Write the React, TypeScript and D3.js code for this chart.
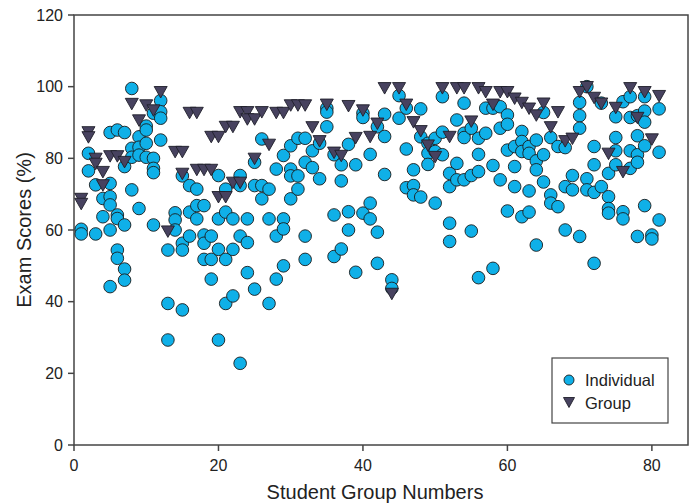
import React from "react";
import * as d3 from "d3";

// Individual exam scores per student group (group number = index + 1)
const individualScores: number[][] = [
  [60.2, 58.9], [81.4, 76.5], [72.6, 58.9], [68.8, 63.7],
  [87.2, 73, 69.3, 67, 60, 44.2], [87.9, 64.2, 63.2, 54.4, 52.1],
  [87.2, 77.7, 61.4, 49.1, 46], [99.5, 82.8, 80.3, 71.2], [86, 83.1, 80.9, 66],
  [89, 87.9, 84.2, 80.3], [92.6, 80, 77.2, 76, 61.4], [96.1, 93, 91.2, 85.1],
  [54.4, 39.5, 29.3], [64.8, 62.8, 60], [75.1, 56.3, 54.4, 37.7], [72.4, 65, 58.3],
  [71.4, 66.8, 63.1], [66.8, 58.6, 56.3, 51.8], [58.3, 51.8, 46.3], [75.2, 63.1, 54.6, 29.3],
  [71.4, 65, 51.8, 39.5], [63.1, 54.6, 41.6], [75.2, 72.4, 58.3, 22.8], [63.1, 56.5, 48.1],
  [78.9, 72.4, 43.5], [85.4, 72.4, 68.7], [71.4, 63.1, 39.5], [77, 58.3, 46.3],
  [80.8, 63.1, 60.3, 50], [83.5, 77, 75.1, 68.7], [85.6, 75.1, 71.4], [85.6, 78.9, 58.3, 51.8],
  [82.1, 77.4], [84.2, 74.3], [94, 92.9, 88.8], [81, 64.2, 52.6], [78.2, 73.7, 54.7],
  [83.9, 65.1, 60], [78.2, 48.2], [92.6, 91.4, 64.7], [81.1, 67.5, 63.1], [88.8, 59.4, 50.7],
  [92.3, 86.1, 75.5], [46.1, 43.7], [97.5, 91.2], [94, 82.6, 71.8], [76.8, 72.4, 69.8],
  [93.8, 86, 69.2], [84.2, 81.4, 78.3], [85.6, 81.9, 67.5], [97.2, 87.3, 81],
  [75.8, 72.1, 61.9, 56.8], [90.7, 78.6, 74], [95.4, 87, 85.8, 74], [88.4, 75.2, 59.7],
  [85.6, 81.1, 76.3, 46.7], [94, 87], [94, 78, 49.3], [94.4, 88.4, 74], [92.1, 89.5, 82.3, 65.3],
  [83.3, 77.7, 72.1], [87.5, 84.7, 81.9, 63.7], [83.3, 81.4, 70.9, 65], [85.1, 79.3, 76.8, 55.8],
  [92.8, 81, 73.4], [85.8, 69.8, 67.5], [83.3, 66.5], [83, 72.1, 60], [75.2, 71.2],
  [95.6, 91.9, 88.4, 58.2], [100, 74.3, 71.2], [83.3, 78.2, 70.5, 50.7], [95.4, 72.1],
  [75.8, 69.3, 66, 64.7], [91.6, 85.8, 82.1, 78.2], [95.8, 65.1, 63.1], [97.2, 91.4, 82.1, 77.2],
  [91.9, 86.3, 81, 78.9, 58.2], [97.2, 93.2, 90.1, 83.5, 66.8], [58.6, 57.5], [93.8, 81.7, 62.8],
];

// Group exam scores per student group (group number = index + 1)
const groupScores: number[][] = [
  [68.8, 67.4], [87.4, 86], [80, 78.6], [76.3, 72.6], [80.7], [80.7], [79.1], [95.3],
  [90.7], [94.9], [93.5], [98.6], [59.7], [81.9], [81.9, 75.8], [92.8], [92.8, 76.9],
  [76.9], [76.9, 86.1], [86.1, 69.3], [88.9, 69.3], [88.9, 73.3], [93, 73.3], [93, 91],
  [91, 80], [93], [83.9], [92.8], [92.8], [94.9], [94.9], [94.9], [88.8], [84.9], [95.1],
  [81.7], [80.8], [94.7], [85.8], [93.5], [86.1], [89.8], [99.7], [42.3], [99.7], [95.1],
  [90.2], [87.7], [83.7], [80.5], [99.7], [86.1], [99.7], [99.7], [90.4], [99.7], [98.6],
  [95.1], [98.6], [98.6], [96.8], [95.6], [94], [92.1], [95.4], [88.8], [93], [84.9], [85.6],
  [98.6], [100], [97], [95.4], [81.4], [94.2], [76.3], [99.7], [91.4], [98.6], [85.4], [97.5],
];

const xTicks = [0, 20, 40, 60, 80];
const yTicks = [0, 20, 40, 60, 80, 100, 120];
const legendLabels = ["Individual", "Group"];

const W = 690;
const H = 503;
const FONT = "'Liberation Sans', Arial, Helvetica, sans-serif";
const CIRCLE_FILL = "#0fb0e8";
const TRI_FILL = "#47425f";
const AXIS = "#444";

const triPath = (x: number, y: number, w: number, h: number) =>
  `M${x - w / 2},${y - h * 0.45}L${x + w / 2},${y - h * 0.45}L${x},${y + h * 0.55}Z`;

export default function App() {
  const x = d3.scaleLinear().domain([0, 85]).range([74, 688]);
  const y = d3.scaleLinear().domain([0, 120]).range([445, 15]);

  const indiv = individualScores.flatMap((vals, i) => vals.map((v) => ({ g: i + 1, v })));
  const grp = groupScores.flatMap((vals, i) => vals.map((v) => ({ g: i + 1, v })));

  return (
    <svg
      width={W}
      height={H}
      style={{ position: "absolute", left: 0, top: 0, background: "#fff" }}
      fontFamily={FONT}
    >
      <rect x={0} y={0} width={W} height={H} fill="#fff" />
      {/* frame */}
      <rect x={x(0)} y={y(120)} width={x(85) - x(0)} height={y(0) - y(120)} fill="none" stroke={AXIS} strokeWidth={1.5} />

      {/* points */}
      {indiv.map((d, i) => (
        <circle key={"c" + i} cx={x(d.g)} cy={y(d.v)} r={6.3} fill={CIRCLE_FILL} stroke="#1b1b1b" strokeWidth={0.9} />
      ))}
      {grp.map((d, i) => (
        <path key={"t" + i} d={triPath(x(d.g), y(d.v), 13, 11.5)} fill={TRI_FILL} stroke="#1f1f2a" strokeWidth={0.9} />
      ))}

      {/* x axis */}
      {xTicks.map((t) => (
        <g key={"xt" + t}>
          <line x1={x(t)} x2={x(t)} y1={y(0)} y2={y(0) + 6} stroke={AXIS} strokeWidth={1.5} />
          <text x={x(t)} y={471} textAnchor="middle" fontSize={16} fill="#222">{t}</text>
        </g>
      ))}
      {/* y axis */}
      {yTicks.map((t) => (
        <g key={"yt" + t}>
          <line x1={x(0) - 6} x2={x(0)} y1={y(t)} y2={y(t)} stroke={AXIS} strokeWidth={1.5} />
          <text x={63} y={y(t)} dy="0.35em" textAnchor="end" fontSize={16} fill="#222">{t}</text>
        </g>
      ))}

      <text x={375} y={499} textAnchor="middle" fontSize={20} fill="#222">Student Group Numbers</text>
      <text transform={`translate(31,230) rotate(-90)`} textAnchor="middle" fontSize={20} fill="#222">Exam Scores (%)</text>

      {/* legend */}
      <rect x={552} y={358} width={116} height={65} fill="#fff" stroke={AXIS} strokeWidth={1.2} />
      <circle cx={569} cy={380} r={5} fill={CIRCLE_FILL} stroke="#1b1b1b" strokeWidth={0.9} />
      <path d={triPath(569, 402, 11, 10)} fill={TRI_FILL} stroke="#1f1f2a" strokeWidth={0.9} />
      <text x={585} y={386} fontSize={16.5} fill="#222">{legendLabels[0]}</text>
      <text x={585} y={409} fontSize={16.5} fill="#222">{legendLabels[1]}</text>
    </svg>
  );
}
